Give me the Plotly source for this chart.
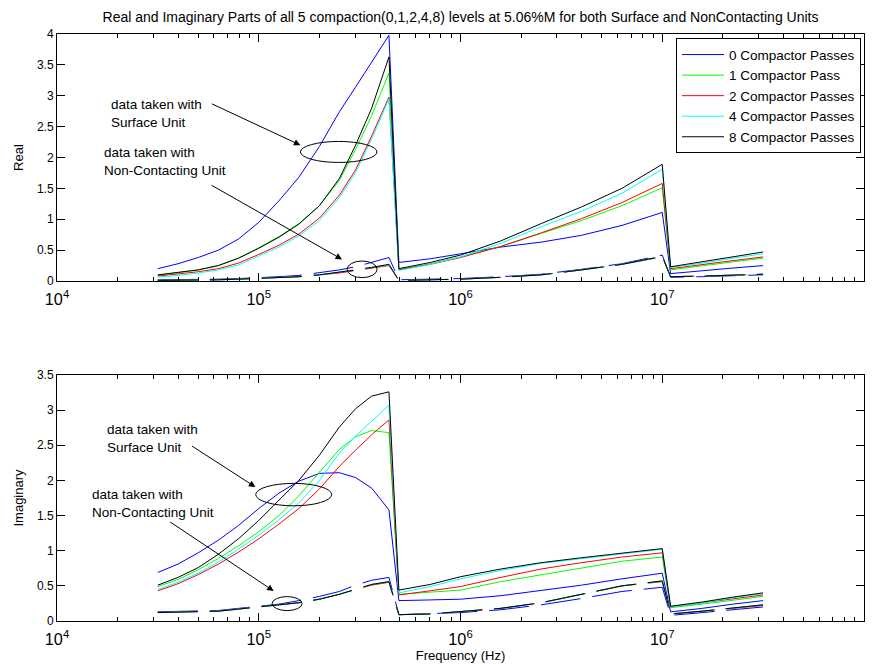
import plotly.graph_objects as go

# Frequency sweep (Hz): three measurement bands
freq = [31600, 39800, 50100, 63100, 79400, 100000, 126000, 158000, 200000,
        251000, 302000, 363000, 442000,
        495000, 708000, 1000000, 1585000, 2512000, 3981000, 6310000, 10000000,
        11000000, 15800000, 22400000, 31600000]

labels = ["0 Compactor Passes", "1 Compactor Pass", "2 Compactor Passes",
          "4 Compactor Passes", "8 Compactor Passes"]
colors = ["#0000ff", "#00ff00", "#ff0000", "#00ffff", "#000000"]

# Real part, surface unit
real_surface = [
    [0.20, 0.28, 0.38, 0.50, 0.68, 0.95, 1.30, 1.68, 2.18, 2.74, 3.14, 3.55, 3.98,
     0.30, 0.36, 0.44, 0.55, 0.63, 0.74, 0.90, 1.11,
     0.12, 0.16, 0.21, 0.25],
    [0.09, 0.13, 0.18, 0.25, 0.37, 0.54, 0.72, 0.93, 1.22, 1.63, 2.13, 2.68, 3.37,
     0.19, 0.28, 0.39, 0.56, 0.77, 0.98, 1.22, 1.51,
     0.18, 0.24, 0.31, 0.37],
    [0.08, 0.11, 0.15, 0.20, 0.29, 0.43, 0.58, 0.76, 1.02, 1.39, 1.80, 2.35, 2.98,
     0.18, 0.27, 0.38, 0.56, 0.78, 1.01, 1.27, 1.58,
     0.20, 0.26, 0.33, 0.39],
    [0.065, 0.09, 0.13, 0.18, 0.26, 0.40, 0.55, 0.73, 0.98, 1.35, 1.76, 2.30, 2.95,
     0.17, 0.27, 0.39, 0.61, 0.88, 1.13, 1.42, 1.81,
     0.22, 0.29, 0.37, 0.44],
    [0.10, 0.14, 0.18, 0.25, 0.37, 0.53, 0.71, 0.92, 1.22, 1.66, 2.20, 2.80, 3.63,
     0.20, 0.30, 0.42, 0.65, 0.93, 1.20, 1.50, 1.89,
     0.23, 0.31, 0.39, 0.47],
]

# Real part, non-contacting unit
real_noncontact = [
    [0.02, 0.02, 0.03, 0.03, 0.04, 0.05, 0.07, 0.09, 0.13, 0.18, 0.23, 0.30, 0.38,
     0.02, 0.03, 0.04, 0.07, 0.11, 0.19, 0.28, 0.42,
     0.06, 0.07, 0.09, 0.10],
    [0.01, 0.01, 0.02, 0.02, 0.03, 0.04, 0.05, 0.07, 0.10, 0.14, 0.18, 0.22, 0.26,
     0.01, 0.02, 0.03, 0.06, 0.10, 0.18, 0.27, 0.40,
     0.07, 0.08, 0.09, 0.11],
    [0.01, 0.01, 0.02, 0.02, 0.03, 0.04, 0.05, 0.07, 0.10, 0.13, 0.17, 0.21, 0.25,
     0.01, 0.02, 0.03, 0.06, 0.10, 0.18, 0.27, 0.39,
     0.07, 0.08, 0.09, 0.11],
    [0.01, 0.01, 0.02, 0.02, 0.03, 0.04, 0.05, 0.07, 0.10, 0.14, 0.18, 0.22, 0.26,
     0.01, 0.02, 0.03, 0.06, 0.10, 0.18, 0.27, 0.40,
     0.07, 0.08, 0.09, 0.11],
    [0.01, 0.01, 0.02, 0.02, 0.03, 0.04, 0.05, 0.07, 0.10, 0.14, 0.18, 0.22, 0.27,
     0.01, 0.02, 0.03, 0.06, 0.10, 0.18, 0.27, 0.40,
     0.07, 0.08, 0.09, 0.11],
]

# Imaginary part, surface unit
imag_surface = [
    [0.69, 0.81, 0.97, 1.15, 1.36, 1.60, 1.82, 1.99, 2.10, 2.11, 2.04, 1.89, 1.58,
     0.29, 0.30, 0.31, 0.36, 0.43, 0.51, 0.60, 0.68,
     0.13, 0.18, 0.24, 0.29],
    [0.49, 0.59, 0.73, 0.89, 1.07, 1.27, 1.50, 1.78, 2.12, 2.44, 2.62, 2.71, 2.68,
     0.38, 0.41, 0.44, 0.56, 0.66, 0.76, 0.85, 0.91,
     0.19, 0.24, 0.30, 0.35],
    [0.43, 0.53, 0.66, 0.81, 0.98, 1.17, 1.38, 1.60, 1.88, 2.20, 2.43, 2.65, 2.86,
     0.37, 0.43, 0.49, 0.62, 0.74, 0.83, 0.91, 0.97,
     0.20, 0.26, 0.32, 0.37],
    [0.45, 0.55, 0.68, 0.84, 1.02, 1.22, 1.44, 1.68, 2.00, 2.39, 2.63, 2.84, 3.07,
     0.40, 0.49, 0.60, 0.72, 0.82, 0.89, 0.96, 1.02,
     0.20, 0.26, 0.33, 0.39],
    [0.51, 0.62, 0.76, 0.95, 1.17, 1.43, 1.72, 2.00, 2.36, 2.76, 3.02, 3.20, 3.26,
     0.44, 0.52, 0.63, 0.74, 0.83, 0.90, 0.97, 1.03,
     0.21, 0.27, 0.34, 0.40],
]

# Imaginary part, non-contacting unit
imag_noncontact = [
    [0.13, 0.135, 0.14, 0.15, 0.18, 0.21, 0.24, 0.29, 0.35, 0.42, 0.51, 0.58, 0.62,
     0.09, 0.10, 0.12, 0.16, 0.23, 0.32, 0.42, 0.48,
     0.08, 0.12, 0.16, 0.20],
    [0.12, 0.125, 0.13, 0.14, 0.17, 0.20, 0.22, 0.26, 0.31, 0.38, 0.45, 0.52, 0.56,
     0.09, 0.10, 0.13, 0.18, 0.26, 0.38, 0.50, 0.57,
     0.10, 0.14, 0.18, 0.23],
    [0.12, 0.125, 0.13, 0.14, 0.17, 0.20, 0.22, 0.26, 0.31, 0.38, 0.45, 0.51, 0.55,
     0.09, 0.10, 0.13, 0.18, 0.26, 0.38, 0.50, 0.56,
     0.10, 0.14, 0.18, 0.22],
    [0.12, 0.125, 0.13, 0.14, 0.17, 0.20, 0.22, 0.26, 0.31, 0.38, 0.45, 0.52, 0.56,
     0.09, 0.10, 0.13, 0.18, 0.26, 0.38, 0.50, 0.57,
     0.10, 0.14, 0.18, 0.23],
    [0.12, 0.125, 0.13, 0.14, 0.17, 0.20, 0.22, 0.26, 0.31, 0.38, 0.45, 0.52, 0.56,
     0.09, 0.10, 0.13, 0.18, 0.26, 0.38, 0.50, 0.57,
     0.10, 0.14, 0.18, 0.23],
]

FONT = "Liberation Sans, Arial, sans-serif"
DASH = "40px,12px"

fig = go.Figure()

# Surface-unit curves (solid)
for i in range(5):
    fig.add_trace(go.Scatter(x=freq, y=real_surface[i], mode="lines",
                             line=dict(color=colors[i], width=1),
                             name=labels[i], xaxis="x", yaxis="y"))
for i in range(5):
    fig.add_trace(go.Scatter(x=freq, y=imag_surface[i], mode="lines",
                             line=dict(color=colors[i], width=1),
                             name=labels[i], showlegend=False,
                             xaxis="x2", yaxis="y2"))
# Non-contacting-unit curves (dashed)
for i in range(5):
    fig.add_trace(go.Scatter(x=freq, y=real_noncontact[i], mode="lines",
                             line=dict(color=colors[i], width=1, dash=DASH),
                             name=labels[i], showlegend=False,
                             xaxis="x", yaxis="y"))
for i in range(5):
    fig.add_trace(go.Scatter(x=freq, y=imag_noncontact[i], mode="lines",
                             line=dict(color=colors[i], width=1, dash=DASH),
                             name=labels[i], showlegend=False,
                             xaxis="x2", yaxis="y2"))

xcommon = dict(type="log", range=[4, 8], dtick=1, exponentformat="power",
               showline=True, linecolor="black", linewidth=1, mirror="ticks",
               ticks="inside", ticklen=8, tickcolor="black", showgrid=False,
               zeroline=False, ticklabelstandoff=4, automargin=False,
               tickfont=dict(family=FONT, size=13, color="black"),
               minor=dict(ticks="inside", ticklen=4, tickcolor="black",
                          dtick="D1", showgrid=False))
ycommon = dict(showline=True, linecolor="black", linewidth=1, mirror="ticks",
               ticks="inside", ticklen=8, tickcolor="black", showgrid=False,
               zeroline=False, dtick=0.5, automargin=False,
               tickfont=dict(family=FONT, size=12, color="black"))

fig.update_layout(
    width=875, height=665,
    margin=dict(l=57, r=11, t=34, b=44),
    paper_bgcolor="white", plot_bgcolor="white",
    font=dict(family=FONT, size=12, color="black"),
    title=dict(text="Real and Imaginary Parts of all 5 compaction(0,1,2,4,8) levels at 5.06%M for both Surface and NonContacting Units",
               x=0.5, xref="paper", y=1 - 17 / 665, yanchor="middle",
               font=dict(family=FONT, size=14, color="black")),
    xaxis=dict(domain=[0, 1], anchor="y", **xcommon),
    yaxis=dict(domain=[0.5792, 1], anchor="x", range=[0, 4],
               title=dict(text="Real", standoff=10, font=dict(family=FONT, size=13)),
               **ycommon),
    xaxis2=dict(domain=[0, 1], anchor="y2",
                title=dict(text="Frequency (Hz)", standoff=4, font=dict(family=FONT, size=13)),
                **xcommon),
    yaxis2=dict(domain=[0, 0.4191], anchor="x2", range=[0, 3.5],
                title=dict(text="Imaginary", standoff=10, font=dict(family=FONT, size=13)),
                **ycommon),
    legend=dict(x=0.9963, xanchor="right", y=0.9927, yanchor="top",
                bgcolor="white", bordercolor="black", borderwidth=1,
                font=dict(family=FONT, size=13.5, color="black"),
                itemwidth=42),
    showlegend=True,
)

# Text callouts, arrows and ellipses marking each unit's curves
def callout(xref, yref, text, tx, ty, hx, hy, ax, ay, ex0, ex1, ey0, ey1):
    fig.add_annotation(xref=xref, yref=yref, x=tx, y=ty, text=text,
                       showarrow=False, xanchor="left", yanchor="middle", align="left",
                       font=dict(family=FONT, size=13.5, color="black"))
    fig.add_annotation(xref=xref, yref=yref, x=hx, y=hy, ax=ax, ay=ay,
                       axref="pixel", ayref="pixel", text="", showarrow=True,
                       arrowhead=2, arrowsize=1.3, arrowwidth=1, arrowcolor="black")
    fig.add_shape(type="circle", xref=xref, yref=yref,
                  x0=10 ** ex0, x1=10 ** ex1, y0=ey0, y1=ey1,
                  line=dict(color="black", width=1))

callout("x", "y", "data taken with<br>Surface Unit", 4.26, 2.71,
        5.2065, 2.20, -90, -42, 5.2065, 5.586, 1.92, 2.26)
callout("x", "y", "data taken with<br>Non-Contacting Unit", 4.2235, 1.93,
        5.413, 0.35, -132, -75, 5.438, 5.5866, 0.055, 0.324)
callout("x2", "y2", "data taken with<br>Surface Unit", 4.24, 2.59,
        4.9834, 1.906, -65, -42, 4.985, 5.3616, 1.639, 1.958)
callout("x2", "y2", "data taken with<br>Non-Contacting Unit", 4.1655, 1.674,
        5.074, 0.427, -105, -70, 5.0662, 5.2149, 0.148, 0.347)

fig.write_html("out.html")
